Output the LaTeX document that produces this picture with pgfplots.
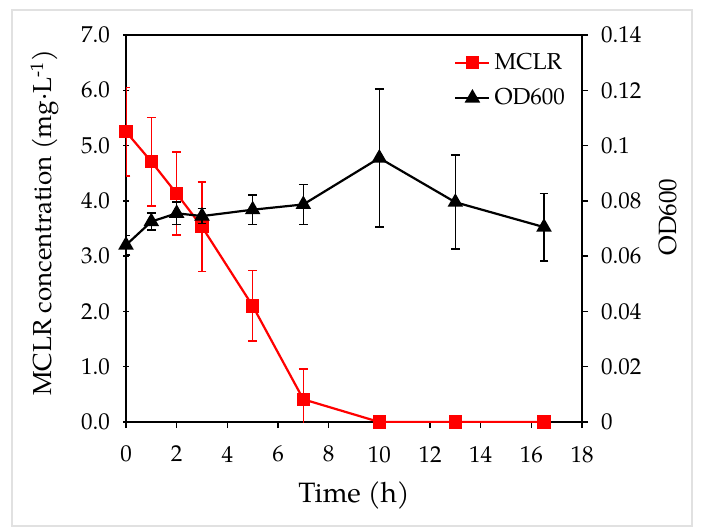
\documentclass[border=0pt]{standalone}
\usepackage{fontspec}
\setmainfont{texgyrepagella}[Extension=.otf, UprightFont=*-regular, BoldFont=*-bold, ItalicFont=*-italic, BoldItalicFont=*-bolditalic]
\usepackage{pgfplots}
\pgfplotsset{compat=1.18}
\begin{document}
\begin{tikzpicture}
\useasboundingbox (-63pt,-54pt) rectangle (289pt,211pt);
\fill[white] (-63pt,-54pt) rectangle (289pt,211pt);
\draw[color={rgb,255:red,225;green,225;blue,225}, line width=0.8pt] (-57pt,-52pt) rectangle (283pt,206pt);
\pgfplotsset{
  every axis/.append style={
    scale only axis, width=228pt, height=193.5pt,
    at={(0,0)}, anchor=south west,
    xmin=0, xmax=18, xtick={0,2,...,18},
    axis line style={line width=0.7pt},
    tick style={line width=0.7pt, black},
    major tick length=3pt,
    /pgf/number format/assume math mode=true,
    tick label style={font=\fontsize{11.5}{13}\selectfont},
    label style={font=\fontsize{13}{15}\selectfont},
  },
}
\begin{axis}[
  ymin=0, ymax=7, ytick={0,1,...,7},
  axis y line*=left, axis x line*=box,
  yticklabel style={/pgf/number format/fixed, /pgf/number format/fixed zerofill, /pgf/number format/precision=1, xshift=-3pt},
  xticklabel style={yshift=-5.5pt},
  xtick align=outside, ytick align=center,
  xtick pos=bottom,
  ylabel={MCLR concentration (mg·L\textsuperscript{-1})},
  ylabel style={at={(axis description cs:-0.178,0.515)}, anchor=center},
  xlabel={Time (h)},
  xlabel style={at={(axis description cs:0.5,-0.189)}, anchor=center, font=\fontsize{14}{16}\selectfont},
  legend style={at={(axis description cs:0.706,0.975)}, anchor=north west, draw=none, fill=none, font=\fontsize{11.5}{13}\selectfont, row sep=4pt},
  legend cell align=left,
  legend image code/.code={\draw[#1] (0pt,0pt) -- (17pt,0pt); \draw[#1, mark repeat=2, mark phase=2] plot coordinates {(0pt,0pt) (8.5pt,0pt) (17pt,0pt)};},
]
\addplot[red, line width=1.1pt, mark=square*, mark size=2.75pt, mark options={solid, fill=red},
  error bars/.cd, y dir=both, y explicit,
  error bar style={red, line width=0.8pt},
  error mark options={rotate=90, mark size=2.2pt, line width=0.8pt, red}]
coordinates {
(0,5.25) +- (0,0.80)
(1,4.71) +- (0,0.80)
(2,4.13) +- (0,0.75)
(3,3.53) +- (0,0.81)
(5,2.10) +- (0,0.64)
(7,0.41) +- (0,0.55)
(10,0) +- (0,0)
(13,0) +- (0,0)
(16.5,0) +- (0,0)
};
\addlegendentry{MCLR}
\addlegendimage{black, line width=1.1pt, mark=triangle*, mark size=3.4pt, mark options={solid, fill=black}}
\addlegendentry{OD600}
\end{axis}
\begin{axis}[
  ymin=0, ymax=0.14, ytick={0,0.02,...,0.14},
  axis y line*=right, axis x line=none,
  ytick align=outside,
  yticklabel style={/pgf/number format/fixed, /pgf/number format/precision=2, xshift=3pt},
  ylabel={OD600},
  ylabel style={at={(axis description cs:1.188,0.53)}, anchor=center, font=\fontsize{12.5}{14}\selectfont},
]
\addplot[black, line width=1.1pt, mark=triangle*, mark size=3.4pt, mark options={solid, fill=black},
  error bars/.cd, y dir=both, y explicit,
  error bar style={black, line width=0.8pt},
  error mark options={rotate=90, mark size=2.2pt, line width=0.8pt, black}]
coordinates {
(0,0.0640) +- (0,0.0035)
(1,0.0725) +- (0,0.0030)
(2,0.0755) +- (0,0.0040)
(3,0.0745) +- (0,0.0027)
(5,0.0768) +- (0,0.0053)
(7,0.0787) +- (0,0.0072)
(10,0.0955) +- (0,0.0250)
(13,0.0795) +- (0,0.0170)
(16.5,0.0705) +- (0,0.0122)
};
\end{axis}
\end{tikzpicture}
\end{document}
